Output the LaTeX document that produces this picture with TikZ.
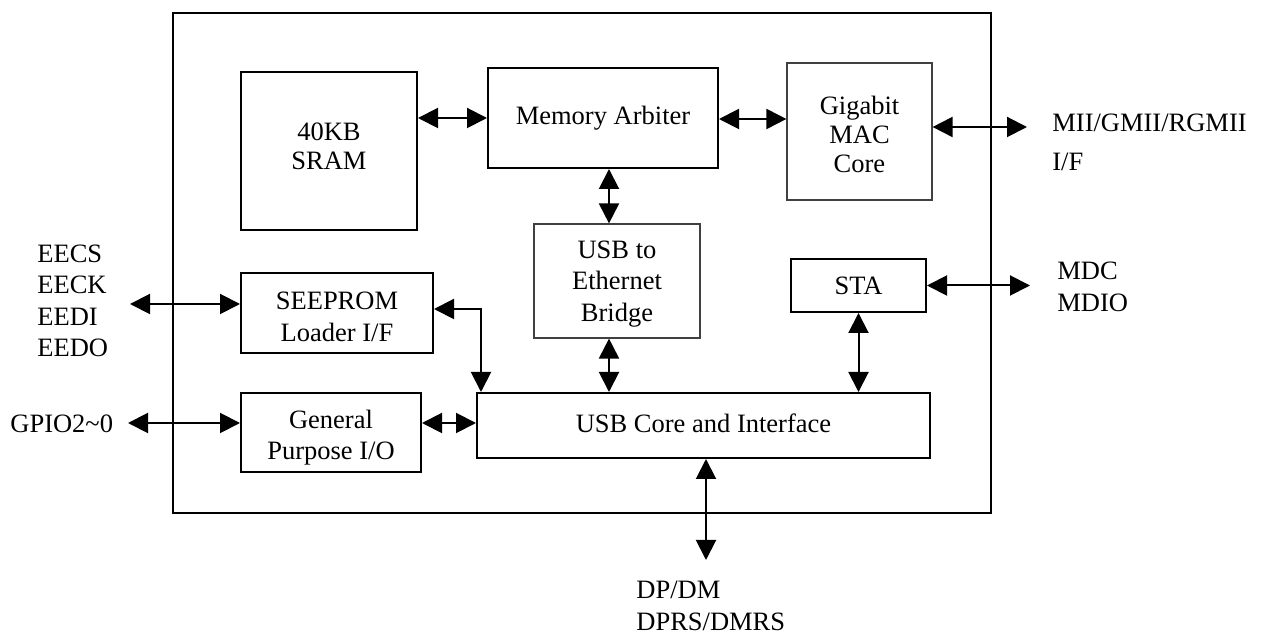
\documentclass[tikz,border=0pt]{standalone}
\usepackage{fontspec}
\setmainfont{Liberation Serif}
\usetikzlibrary{arrows.meta}
\newcommand{\shifttext}[3]{\raisebox{#1}[\height][\depth]{\parbox{#2}{\centering #3}}}
\begin{document}
\begin{tikzpicture}[x=0.5pt,y=-0.5pt,
  every node/.style={font=\fontsize{13.25}{15.7}\selectfont},
  blk/.style={draw=black, line width=1pt, inner sep=0pt, align=center},
  lightblk/.style={draw=black!75, line width=0.6pt, inner sep=0pt, align=center},
  bi/.style={line width=1pt, {Triangle[length=10pt,width=10pt]}-{Triangle[length=10pt,width=10pt]}},
  lbl/.style={inner sep=0pt, align=left}]
\useasboundingbox (0,0) rectangle (1265,635);
% chip outline
\node[draw=black, line width=1.4pt, inner sep=0pt, minimum width=409pt, minimum height=250pt] (chip) at (582,263) {};
% blocks
\node[blk, minimum width=88pt, minimum height=79pt, font=\fontsize{13.25}{14.6}\selectfont] (sram) at (329,151) {\shifttext{2.5pt}{80pt}{40KB\\SRAM}};
\node[blk, minimum width=115pt, minimum height=50pt] (arb) at (603,118) {Memory Arbiter};
\node[lightblk, minimum width=72.5pt, minimum height=68.5pt, font=\fontsize{13.25}{14.5}\selectfont] (mac) at (859.5,131.5) {\shifttext{-1.5pt}{70pt}{Gigabit\\MAC\\Core}};
\node[lightblk, minimum width=83pt, minimum height=57pt] (bridge) at (617,281) {\shifttext{-1.5pt}{80pt}{USB to\\Ethernet\\Bridge}};
\node[blk, minimum width=96pt, minimum height=40pt] (seeprom) at (337,313) {\shifttext{-2pt}{92pt}{SEEPROM\\Loader I/F}};
\node[blk, minimum width=67.5pt, minimum height=26.5pt] (sta) at (858.5,285.5) {STA};
\node[blk, minimum width=90pt, minimum height=39.5pt] (gpio) at (331,432.5) {\shifttext{-2.5pt}{88pt}{General\\Purpose I/O}};
\node[blk, minimum width=226.5pt, minimum height=32.5pt] (usb) at (703.5,425.5) {\shifttext{1pt}{220pt}{USB Core and Interface}};
% external labels
\node[lbl, anchor=west] (ee) at (37,301) {EECS\\EECK\\EEDI\\EEDO};
\node[lbl, anchor=west] (gpiolbl) at (10,424) {GPIO2\textasciitilde0};
\node[lbl, anchor=west, font=\fontsize{13.25}{19.5}\selectfont] (mii) at (1052,142) {MII/GMII/RGMII\\I/F};
\node[lbl, anchor=west] (mdc) at (1057,287) {MDC\\MDIO};
\node[lbl, anchor=west] (dp) at (636,606) {DP/DM\\DPRS/DMRS};
% free ends and bends
\coordinate (miiEnd) at (1027,127);
\coordinate (mdcEnd) at (1030,285.5);
\coordinate (eeEnd) at (130,304);
\coordinate (gpioEnd) at (128,423);
\coordinate (dpEnd) at (706,560);
\coordinate (seeElbow) at (481,309);
\coordinate (colA) at (609,0);
% connectors
\draw[bi] (sram.east |- arb.west) -- (arb.west);
\draw[bi] (arb.east |- 0,119) -- (mac.west |- 0,119);
\draw[bi] (mac.east |- miiEnd) -- (miiEnd);
\draw[bi] (arb.south -| colA) -- (bridge.north -| colA);
\draw[bi] (bridge.south -| colA) -- (usb.north -| colA);
\draw[bi] (sta.south) -- (usb.north -| sta.south);
\draw[bi] (sta.east) -- (mdcEnd);
\draw[bi] (seeprom.east |- seeElbow) -- (seeElbow) -- (usb.north -| seeElbow);
\draw[bi] (eeEnd) -- (seeprom.west |- eeEnd);
\draw[bi] (gpioEnd) -- (gpio.west |- gpioEnd);
\draw[bi] (gpio.east |- gpioEnd) -- (usb.west |- gpioEnd);
\draw[bi] (usb.south -| dpEnd) -- (dpEnd);
\end{tikzpicture}
\end{document}
